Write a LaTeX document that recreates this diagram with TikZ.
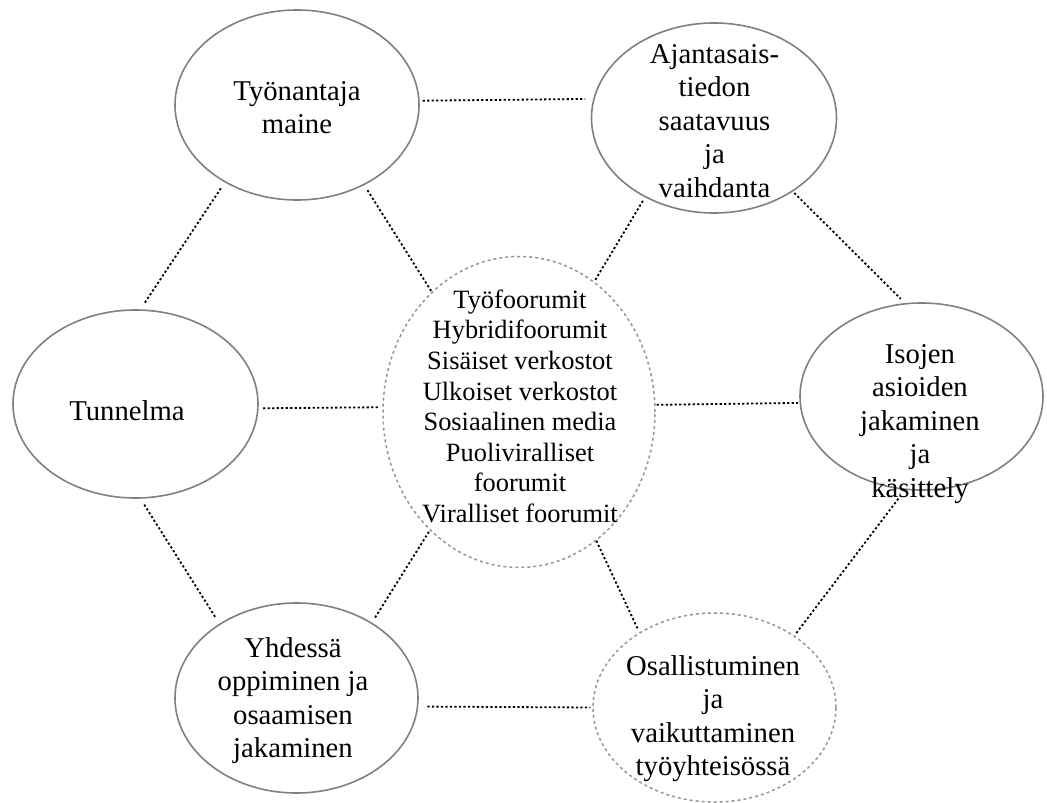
\documentclass[tikz,border=0pt]{standalone}
\usepackage{fontspec}
\setmainfont{Liberation Serif}
\usetikzlibrary{shapes.geometric}
\definecolor{ringgray}{RGB}{128,128,128}
\definecolor{dashgray}{RGB}{150,150,150}
\begin{document}
\begin{tikzpicture}[x=1pt,y=-1pt,
  ring/.style={ellipse, draw=ringgray, line width=1.6pt, inner sep=0pt},
  dring/.style={ellipse, draw=dashgray, line width=1.5pt, dash pattern=on 3pt off 3pt, inner sep=0pt},
  lbl/.style={anchor=north, align=center, inner sep=0pt, font=\fontsize{28.7}{33.5}\selectfont},
  clbl/.style={anchor=north, align=center, inner sep=0pt, font=\fontsize{26.4}{30.6}\selectfont},
  link/.style={draw=black, line width=1.8pt, dash pattern=on 2.2pt off 2.3pt}]
\useasboundingbox[fill=white] (0,0) rectangle (1047,803);

% ellipses
\node[ring, minimum width=244pt, minimum height=190pt] (A) at (297,105) {};
\node[ring, minimum width=245pt, minimum height=190pt] (B) at (714,118) {};
\node[ring, minimum width=245pt, minimum height=188pt] (T) at (135.5,404) {};
\node[dring, minimum width=272pt, minimum height=311pt] (C) at (519,412) {};
\node[ring, minimum width=243pt, minimum height=187pt] (I) at (921.5,396.5) {};
\node[ring, minimum width=243pt, minimum height=190pt] (Y) at (296.5,698) {};
\node[dring, minimum width=243pt, minimum height=189pt] (O) at (714.5,707.5) {};

% texts
\node[lbl] (tA) at (297,76.5) {\strut Työnantaja\\maine};
\node[lbl] (tB) at (714.5,39.5) {\strut Ajantasais-\\tiedon\\saatavuus\\ja\\vaihdanta};
\node[lbl] (tT) at (127,396.5) {\strut Tunnelma};
\node[lbl] (tI) at (920,339.5) {\strut Isojen\\asioiden\\jakaminen\\ja\\käsittely};
\node[lbl] (tY) at (293,633.5) {\strut Yhdessä\\oppiminen ja\\osaamisen\\jakaminen};
\node[lbl] (tO) at (713,651.5) {\strut Osallistuminen\\ja\\vaikuttaminen\\työyhteisössä};
\node[clbl] (tC) at (520,286.6) {\strut Työfoorumit\\Hybridifoorumit\\Sisäiset verkostot\\Ulkoiset verkostot\\Sosiaalinen media\\Puoliviralliset\\foorumit\\Viralliset foorumit};

% connectors
\draw[link, shorten <=3pt, shorten >=8pt] (A.2.75) -- (B.171.6);
\draw[link, shorten <=7pt, shorten >=7pt] (A.227.9) -- (T.87.2);
\draw[link, shorten <=6pt, shorten >=0pt] (A.-50.5) -- (C.126.7);
\draw[link, shorten <=4pt, shorten >=0pt] (B.229.1) -- (C.60);
\draw[link, shorten <=2pt, shorten >=6pt] (B.-43.5) -- (I.100.6);
\draw[link, shorten <=4.5pt, shorten >=3pt] (T.-2.26) -- (C.178.8);
\draw[link, shorten <=1pt, shorten >=1.5pt] (C.3.3) -- (I.183.5);
\draw[link, shorten <=7pt, shorten >=8pt] (T.-87.4) -- (Y.136.9);
\draw[link, shorten <=6pt, shorten >=0pt] (Y.45.5) -- (C.233.9);
\draw[link, shorten <=0pt, shorten >=4pt] (C.-59.9) -- (O.135);
\draw[link, shorten <=11pt, shorten >=3pt] (I.-100.1) -- (O.42.6);
\draw[link, shorten <=9pt, shorten >=2pt] (Y.-4.4) -- (O.180);
\end{tikzpicture}
\end{document}
